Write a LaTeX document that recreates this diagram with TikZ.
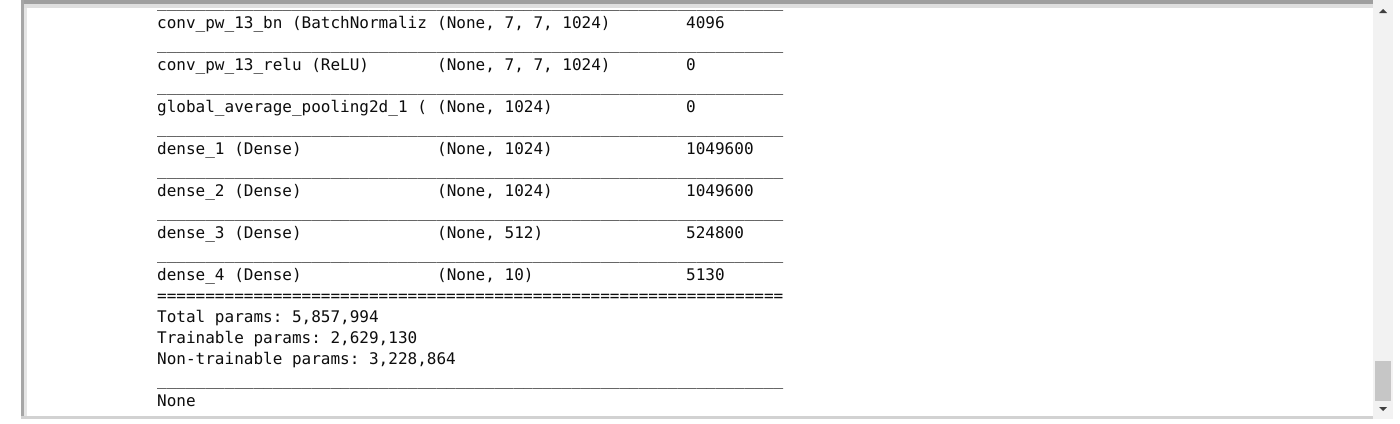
\documentclass[tikz,border=0pt]{standalone}
\usepackage{fontspec}
\setmonofont{DejaVu Sans Mono}
\newcommand\undten{\_\_\_\_\_\_\_\_\_\_}
\newcommand\undrow{\undten\undten\undten\undten\undten\undten\_\_\_\_\_}
\newcommand\eqten{==========}
\newcommand\eqrow{\eqten\eqten\eqten\eqten\eqten\eqten=====}
\begin{document}
\begin{tikzpicture}[x=1pt,y=-1pt,
  row/.style={anchor=base west,inner sep=0pt,font=\ttfamily\fontsize{16}{21}\selectfont,text=black!95}]
\useasboundingbox (0,0) rectangle (1400,423);
\fill[white] (0,0) rectangle (1400,423);

% Window frame
\fill[gray!25] (21,0) rectangle (1373,8);
\fill[gray!75] (21,0) rectangle (1373,4);
\fill[gray!20] (24,8) rectangle (27,416);
\fill[gray!70] (21,0) rectangle (24,419);
\fill[gray!35] (21,416) rectangle (1373,419);

% Scrollbar
\fill[gray!10] (1373,0) rectangle (1393,419);
\fill[gray!45] (1375,361) rectangle (1391,401);
\fill[black!75] (1383,9) -- (1387,13) -- (1379,13) -- cycle;
\fill[black!75] (1379,407) -- (1387,407) -- (1383,411) -- cycle;

% Rules between layers
\foreach \k in {0,2,4,6,8,10,12,18}
  \node[row] (rule\k) at (157,7+21*\k) {\undrow};
\node[row] (eqrule) at (157,301) {\eqrow};

% Layer rows
\foreach \k/\lname/\lshape/\lcount in {
  1/{conv\_pw\_13\_bn (BatchNormaliz}/{(None, 7, 7, 1024)}/4096,
  3/{conv\_pw\_13\_relu (ReLU)}/{(None, 7, 7, 1024)}/0,
  5/{global\_average\_pooling2d\_1 (}/{(None, 1024)}/0,
  7/{dense\_1 (Dense)}/{(None, 1024)}/1049600,
  9/{dense\_2 (Dense)}/{(None, 1024)}/1049600,
  11/{dense\_3 (Dense)}/{(None, 512)}/524800,
  13/{dense\_4 (Dense)}/{(None, 10)}/5130}{
  \node[row] (layer\k) at (157,7+21*\k) {\lname};
  \node[row] (shape\k) at (437,7+21*\k) {\lshape};
  \node[row] (count\k) at (686,7+21*\k) {\lcount};
}

% Summary
\node[row] (total) at (157,322) {Total params: 5,857,994};
\node[row] (train) at (157,343) {Trainable params: 2,629,130};
\node[row] (nontrain) at (157,364) {Non-trainable params: 3,228,864};
\node[row] (none) at (157,406) {None};
\end{tikzpicture}
\end{document}
